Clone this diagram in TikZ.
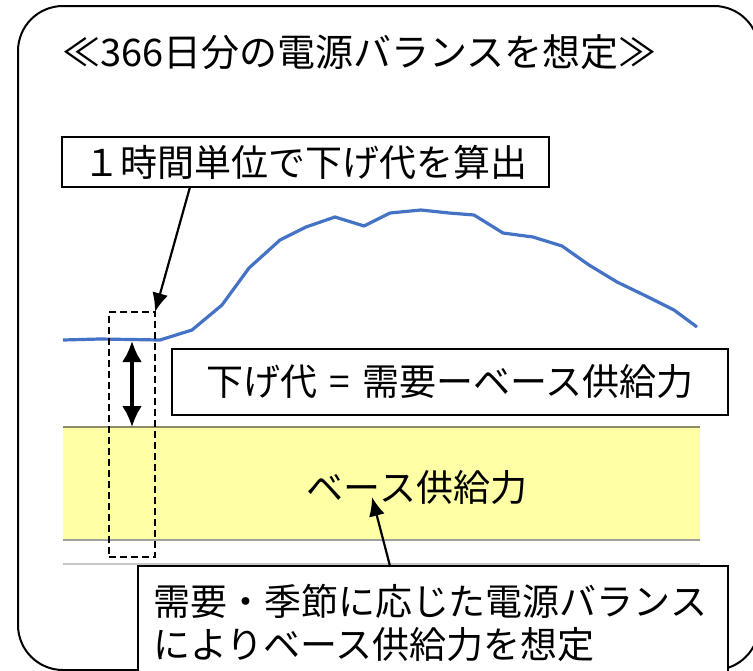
\documentclass[tikz,border=0pt]{standalone}
\usepackage{fontspec}
\setmainfont{Noto Sans CJK JP}
\usetikzlibrary{arrows.meta}
\definecolor{demandblue}{HTML}{4472C4}
\definecolor{baseyellow}{HTML}{FFFFA6}
\definecolor{bandedge}{HTML}{8C8C64}
\definecolor{axisgrey}{HTML}{C8C8C8}

\begin{document}
\begin{tikzpicture}[x=1pt,y=-1pt,
    every node/.style={font=\fontsize{37}{43}\selectfont, inner sep=0pt, outer sep=0pt},
    textbox/.style={draw=black, line width=2pt, fill=white},
    pointer/.style={line width=2.2pt, -{Latex[length=19pt,width=16pt]}},
    span/.style={line width=3.5pt, {Latex[length=21pt,width=20pt]}-{Latex[length=21pt,width=20pt]}}]
    \useasboundingbox (0,0) rectangle (753,670);
    \clip (0,0) rectangle (753,670);
    \draw[line width=2pt, rounded corners=45pt] (18,6) rectangle (759,670);
    \node[anchor=west, font=\fontsize{38}{44}\selectfont] (title) at (62,52) {≪366日分の電源バランスを想定≫};
    \fill[baseyellow] (63,427) rectangle (700,540);
    \draw[bandedge, line width=1.8pt] (63,427) -- (700,427);
    \draw[axisgrey!80!black, line width=1.5pt] (63,540) -- (700,540);
    \draw[axisgrey, line width=2pt] (63,564) -- (700,564);
    \draw[demandblue, line width=3.2pt, line join=round] plot coordinates {
        (63,340) (100,339) (160,340) (192,330) (222,305) (249,268) (280,240)
        (306,227) (335,217) (364,226) (390,213) (421,210) (449,213) (474,215)
        (503,233) (533,237) (562,246) (589,265) (617,282) (646,296) (674,310) (697,327)};
    \node[draw, dashed, dash pattern=on 7pt off 4pt, line width=1.8pt, minimum width=46pt, minimum height=245pt] (slot) at (132,434.5) {};
    \coordinate (demand) at (132,341);
    \coordinate (basetop) at (132,427);
    \draw[span] (demand) -- (basetop);
    \node[textbox, minimum width=487pt, minimum height=50pt] (hourly) at (305.5,162) {１時間単位で下げ代を算出};
    \node[textbox, minimum width=556pt, minimum height=66pt] (margin) at (450,382) {下げ代\,\,=\,\,需要ーベース供給力};
    \node (base) at (417,488) {ベース供給力};
    \node[textbox, anchor=north west, minimum width=590pt, minimum height=114pt, text width=560pt, align=left] (balance) at (138,566) {需要・季節に応じた電源バランス\\によりベース供給力を想定};
    \coordinate (basetip) at (372,497);
    \draw[pointer] ([xshift=128pt]hourly.south west) -- (slot.north east);
    \draw[pointer] ([xshift=252pt]balance.north west) -- (basetip);
\end{tikzpicture}
\end{document}
